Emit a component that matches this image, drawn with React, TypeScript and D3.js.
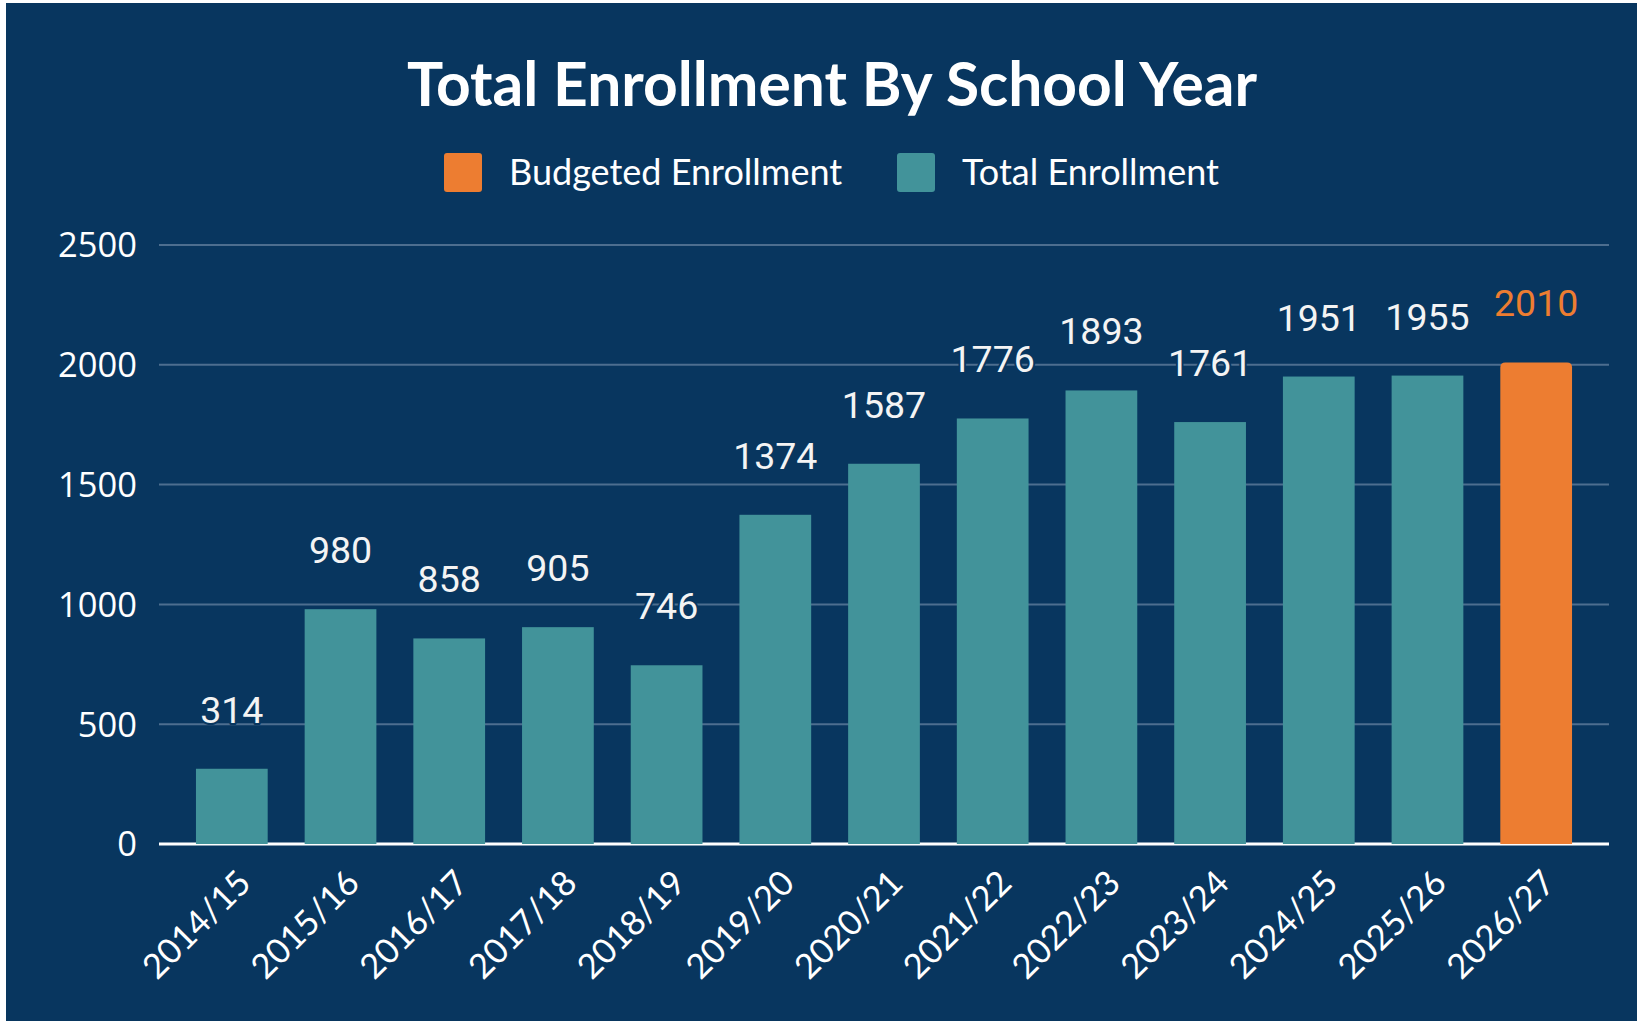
import React from 'react';
import * as d3 from 'd3';

const years = ['2014/15', '2015/16', '2016/17', '2017/18', '2018/19', '2019/20', '2020/21', '2021/22', '2022/23', '2023/24', '2024/25', '2025/26', '2026/27'];
const totalEnrollment: (number | null)[] = [314, 980, 858, 905, 746, 1374, 1587, 1776, 1893, 1761, 1951, 1955, null];
const budgetedEnrollment: (number | null)[] = [null, null, null, null, null, null, null, null, null, null, null, null, 2010];
const yTicks = [0, 500, 1000, 1500, 2000, 2500];
const seriesNames = ['Budgeted Enrollment', 'Total Enrollment'];
const title = 'Total Enrollment By School Year';

const W = 1637;
const H = 1021;
const BG = '#08365F';
const TEAL = '#42939A';
const ORANGE = '#ED7D31';
const GRID = '#4D6E8F';

export default function App() {
  const x = d3.scaleBand<string>().domain(years).range([159, 1609]).paddingInner(0.34).paddingOuter(0.34);
  const y = d3.scaleLinear().domain([0, 2500]).range([844, 245]);
  const bw = x.bandwidth();

  const roundedTop = (x0: number, y0: number, w: number, h: number, r: number) =>
    `M${x0},${y0 + h}V${y0 + r}Q${x0},${y0} ${x0 + r},${y0}H${x0 + w - r}Q${x0 + w},${y0} ${x0 + w},${y0 + r}V${y0 + h}Z`;

  return (
    <svg width={W} height={H} style={{ position: 'absolute', left: 0, top: 0, display: 'block' }}>
      <rect x={6} y={3} width={W - 6} height={H - 3} fill={BG} />
      <text x={832} y={106} textAnchor="middle" fill="#ffffff" fontFamily="Lato" fontWeight={700} fontSize={60.5}>{title}</text>
      {/* legend */}
      <g>
        <rect x={444} y={153} width={38} height={39} rx={3} fill={ORANGE} />
        <text x={509} y={185} fill="#ffffff" fontFamily="Lato" fontSize={36}>{seriesNames[0]}</text>
        <rect x={897} y={153} width={38} height={39} rx={3} fill={TEAL} />
        <text x={962} y={185} fill="#ffffff" fontFamily="Lato" fontSize={36}>{seriesNames[1]}</text>
      </g>
      {/* grid */}
      {yTicks.filter(t => t > 0).map(t => (
        <line key={t} x1={159} x2={1609} y1={y(t)} y2={y(t)} stroke={GRID} strokeWidth={2} />
      ))}
      {yTicks.map(t => (
        <text key={'l' + t} x={137} y={y(t)} dy="0.36em" textAnchor="end" fill="#ffffff" fontFamily="Open Sans" fontSize={34.5}>{t}</text>
      ))}
      <line x1={159} x2={1609} y1={y(0)} y2={y(0)} stroke="#ffffff" strokeWidth={3} />
      {/* bars */}
      {years.map((yr, i) => {
        const v = totalEnrollment[i];
        if (v == null) return null;
        return <rect key={'t' + yr} x={x(yr)} y={y(v)} width={bw} height={y(0) - y(v)} fill={TEAL} />;
      })}
      {years.map((yr, i) => {
        const v = budgetedEnrollment[i];
        if (v == null) return null;
        return <path key={'b' + yr} d={roundedTop(x(yr)!, y(v), bw, y(0) - y(v), 5)} fill={ORANGE} />;
      })}
      {/* value labels */}
      {years.map((yr, i) => {
        const v = totalEnrollment[i] ?? budgetedEnrollment[i];
        if (v == null) return null;
        const isB = totalEnrollment[i] == null;
        return (
          <text key={'v' + yr} x={x(yr)! + bw / 2} y={y(v) - 46} textAnchor="middle" fontFamily="Roboto" fontSize={37.5}
            fill={isB ? ORANGE : '#F4F4F4'} stroke={BG} strokeWidth={4} paintOrder="stroke" strokeLinejoin="round">{v}</text>
        );
      })}
      {/* x labels */}
      {years.map(yr => (
        <text key={'x' + yr} transform={`translate(${x(yr)! + bw / 2 + 21},${885}) rotate(-45)`} textAnchor="end" fill="#ffffff" fontFamily="Lato" fontSize={34.5}>{yr}</text>
      ))}
    </svg>
  );
}
